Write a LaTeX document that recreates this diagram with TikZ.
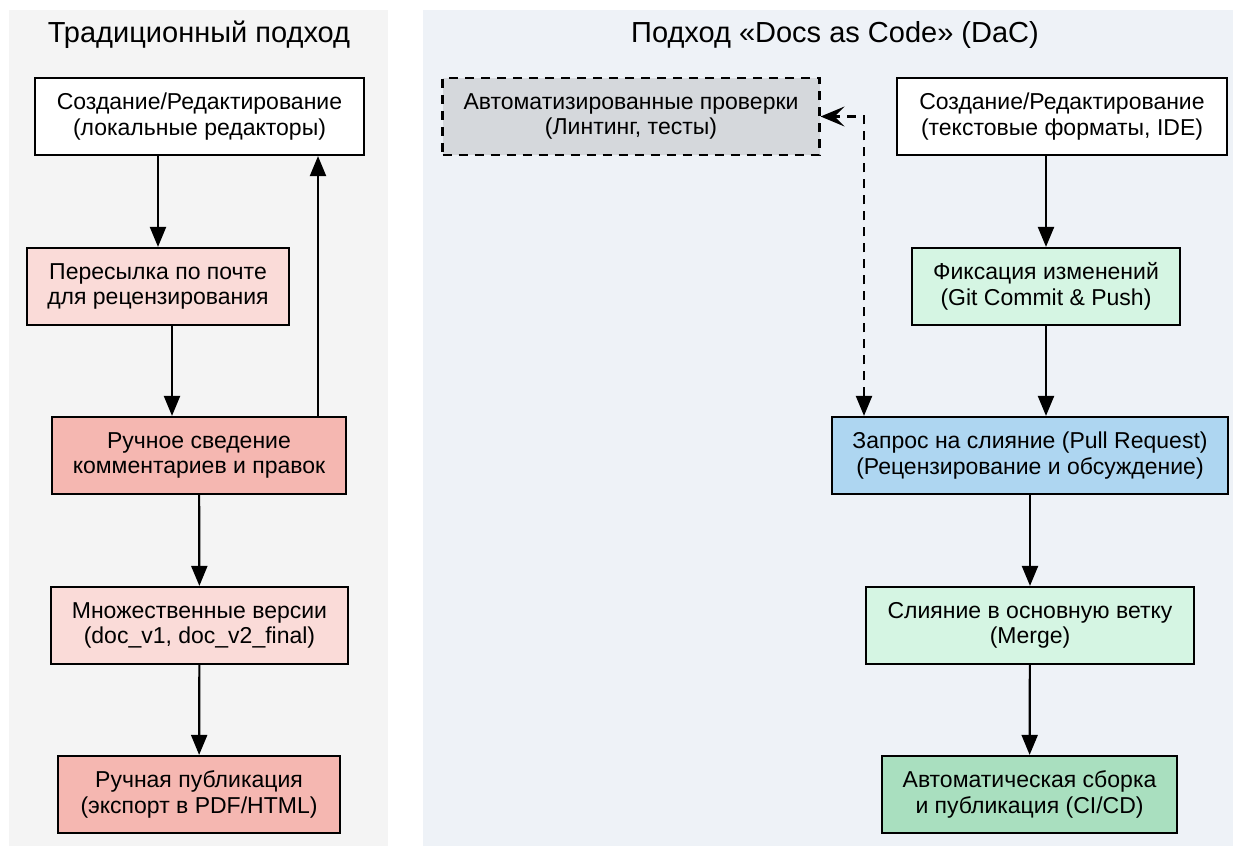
\documentclass[tikz,border=0pt]{standalone}
\usepackage{fontspec}
\setmainfont{Liberation Sans}
\usepackage{tikz}
\usetikzlibrary{arrows.meta}
\usetikzlibrary{positioning}

\definecolor{panelL}{HTML}{F4F4F4}
\definecolor{panelR}{HTML}{EEF2F7}
\definecolor{grayBox}{HTML}{D5D8DC}
\definecolor{pinkLight}{HTML}{FADBD8}
\definecolor{pinkDark}{HTML}{F5B7B1}
\definecolor{greenLight}{HTML}{D5F5E3}
\definecolor{greenDark}{HTML}{A9DFBF}
\definecolor{blueBox}{HTML}{AED6F1}

\begin{document}
\begin{tikzpicture}[
        x=0.5pt, y=-0.5pt,
        font=\fontsize{11.5}{12.8}\selectfont,
        box/.style={draw, line width=1.1pt, align=center, minimum height=38.5pt, inner sep=2pt},
        title/.style={font=\fontsize{14.5}{16}\selectfont},
        arr/.style={-{Triangle[length=10pt, width=8pt]}, line width=1.1pt},
        dasharr/.style={{Triangle[length=10pt, width=8pt]}-{Stealth[length=12pt, width=10pt, inset=5pt]}, line width=1.1pt, dash pattern=on 4.5pt off 3.5pt}
    ]
        % --- Fondo de los dos paneles ---
        \useasboundingbox (0,0) rectangle (1233,846);
        \fill[white] (0,0) rectangle (1233,846);
        \fill[panelL] (9,10) rectangle (388,846);
        \fill[panelR] (423,10) rectangle (1233,846);

        % --- Títulos ---
        \node[title] (titleL) at (199,35) {Традиционный подход};
        \node[title] (titleR) at (835,35) {Подход «Docs as Code» (DaC)};

        % --- Enfoque tradicional ---
        \node[box, fill=white, minimum width=164.5pt] (L1) at (199.5,116.5) {Создание/Редактирование\\(локальные редакторы)};
        \node[box, fill=pinkLight, minimum width=131pt] (L2) at (158,286.5) {Пересылка по почте\\для рецензирования};
        \node[box, fill=pinkDark, minimum width=147pt] (L3) at (199,455.5) {Ручное сведение\\комментариев и правок};
        \node[box, fill=pinkLight, minimum width=148.5pt] (L4) at (199.5,625.5) {Множественные версии\\(doc\_v1, doc\_v2\_final)};
        \node[box, fill=pinkDark, minimum width=141pt] (L5) at (199,794.5) {Ручная публикация\\(экспорт в PDF/HTML)};

        \draw[arr] (L1.south -| L2) -- (L2.north);
        \draw[arr] ([xshift=7pt]L2.south) -- ([xshift=7pt]L2.south |- L3.north);
        \draw[arr] ([xshift=59.5pt]L3.north) -- ([xshift=59.5pt]L3.north |- L1.south);
        \draw[arr] (L3) -- (L4);
        \draw[arr] (L4) -- (L5);

        % --- Enfoque Docs as Code ---
        \node[box, fill=grayBox, dash pattern=on 4.5pt off 3.5pt, minimum width=188.5pt] (R0) at (631,116.5) {Автоматизированные проверки\\(Линтинг, тесты)};
        \node[box, fill=white, minimum width=165pt] (R1) at (1062,116.5) {Создание/Редактирование\\(текстовые форматы, IDE)};
        \node[box, fill=greenLight, minimum width=134pt] (R2) at (1046,286.5) {Фиксация изменений\\(Git Commit \& Push)};
        \node[box, fill=blueBox, minimum width=198pt] (R3) at (1030,455.5) {Запрос на слияние (Pull Request)\\(Рецензирование и обсуждение)};
        \node[box, fill=greenLight, minimum width=164pt] (R4) at (1030,625.5) {Слияние в основную ветку\\(Merge)};
        \node[box, fill=greenDark, minimum width=147.5pt] (R5) at (1029.5,794.5) {Автоматическая сборка\\и публикация (CI/CD)};

        \draw[arr] (R1.south -| R2) -- (R2.north);
        \draw[arr] (R2.south) -- (R2.south |- R3.north);
        \draw[arr] (R3) -- (R4);
        \draw[arr] (R4) -- (R5);
        % Verificaciones automáticas (línea discontinua)
        \draw[dasharr] ([xshift=-83pt]R3.north) |- (R0.east);

    \end{tikzpicture}
\end{document}
